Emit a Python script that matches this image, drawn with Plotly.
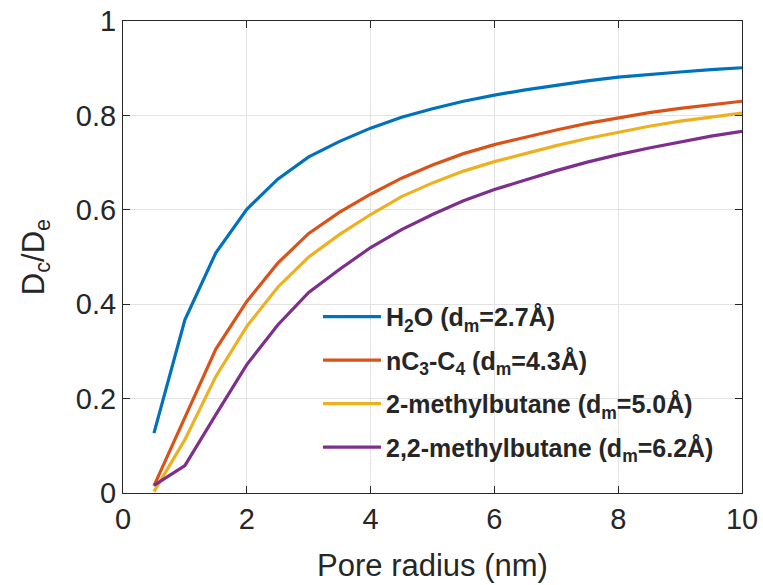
import plotly.graph_objects as go

pore_radius = [0.5, 1.0, 1.5, 2.0, 2.5, 3.0, 3.5, 4.0, 4.5, 5.0,
               5.5, 6.0, 6.5, 7.0, 7.5, 8.0, 8.5, 9.0, 9.5, 10.0]

h2o = [0.127, 0.367, 0.509, 0.601, 0.665, 0.712, 0.745, 0.773, 0.796, 0.814,
       0.830, 0.843, 0.854, 0.864, 0.873, 0.881, 0.887, 0.892, 0.897, 0.901]
nc3c4 = [0.015, 0.162, 0.305, 0.406, 0.487, 0.550, 0.595, 0.633, 0.667, 0.695,
         0.719, 0.738, 0.754, 0.769, 0.783, 0.795, 0.806, 0.815, 0.823, 0.830]
methylbutane = [0.003, 0.113, 0.247, 0.353, 0.436, 0.500, 0.548, 0.590, 0.628, 0.657,
                0.682, 0.702, 0.719, 0.736, 0.751, 0.764, 0.777, 0.788, 0.797, 0.805]
dimethylbutane = [0.016, 0.058, 0.166, 0.272, 0.356, 0.425, 0.474, 0.520, 0.558, 0.590,
                  0.619, 0.643, 0.663, 0.683, 0.701, 0.717, 0.731, 0.744, 0.756, 0.766]

series_names = [
    "H<sub>2</sub>O (d<sub>m</sub>=2.7Å)",
    "nC<sub>3</sub>-C<sub>4</sub> (d<sub>m</sub>=4.3Å)",
    "2-methylbutane (d<sub>m</sub>=5.0Å)",
    "2,2-methylbutane (d<sub>m</sub>=6.2Å)",
]
series_values = [h2o, nc3c4, methylbutane, dimethylbutane]
colors = ["#0072BD", "#D95319", "#EDB120", "#7E2F8E"]

x_ticks = [0, 2, 4, 6, 8, 10]
y_ticks = [0, 0.2, 0.4, 0.6, 0.8, 1]
y_tick_labels = ["0", "0.2", "0.4", "0.6", "0.8", "1"]

fig = go.Figure()
for i, (name, vals, col) in enumerate(zip(series_names, series_values, colors)):
    fig.add_trace(go.Scatter(x=pore_radius, y=vals, mode="lines", name=name,
                             legendgroup=f"g{i}",
                             line=dict(color=col, width=3.2)))

axis_common = dict(
    showline=True, linecolor="#262626", linewidth=1, mirror="ticks",
    ticks="inside", ticklen=7, tickcolor="#262626", tickwidth=1,
    showgrid=True, gridcolor="#e3e3e3", gridwidth=1, zeroline=False,
    automargin=False,
    tickfont=dict(family="Liberation Sans, Arial", size=29, color="#262626"),
)

fig.update_layout(
    width=763, height=585,
    margin=dict(l=123, r=21, t=21, b=92),
    paper_bgcolor="white", plot_bgcolor="white",
    font=dict(family="Liberation Sans, Arial", color="#262626"),
    xaxis=dict(range=[0, 10], tickvals=x_ticks,
               title=dict(text="Pore radius (nm)", font=dict(size=31), standoff=20),
               **axis_common),
    yaxis=dict(range=[0, 1], tickvals=y_ticks, ticktext=y_tick_labels,
               title=dict(text="D<sub>c</sub>/D<sub>e</sub>", font=dict(size=31), standoff=22),
               **axis_common),
    legend=dict(x=0.315, y=0.422, xanchor="left", yanchor="top",
                bgcolor="rgba(255,255,255,0)", borderwidth=0,
                font=dict(family="Liberation Sans, Arial", size=25, color="#262626", weight="bold"),
                itemwidth=58, tracegroupgap=8),
    showlegend=True,
)

fig.write_html("out.html",
               config={"displayModeBar": False},
               post_script="document.body.style.margin='0';document.body.style.overflow='hidden';")
